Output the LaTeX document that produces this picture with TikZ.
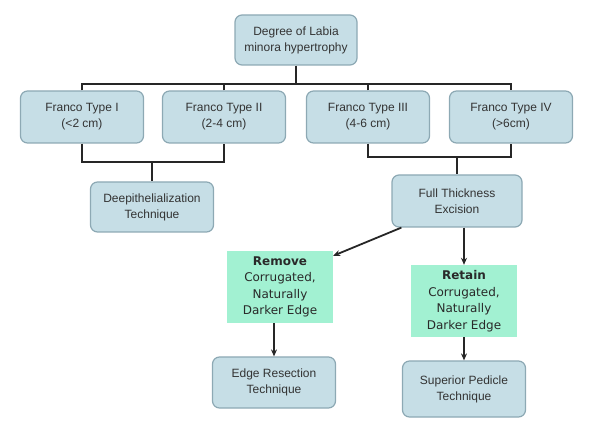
\documentclass[tikz,border=0pt]{standalone}
\usepackage{fontspec}
\setmainfont{Liberation Sans}
\newfontfamily\verdanafont{DejaVu Sans}
\usetikzlibrary{arrows.meta}
\definecolor{boxblue}{HTML}{C6DEE6}
\definecolor{boxline}{HTML}{8DA9B4}
\definecolor{boxgreen}{HTML}{A2F1D2}
\definecolor{inkgray}{HTML}{333333}
\begin{document}
\begin{tikzpicture}[x=1pt,y=-1pt,
    bluebox/.style={draw=boxline, line width=1.2pt, fill=boxblue, rounded corners=7pt,
        align=center, text=inkgray, font=\fontsize{12}{16}\selectfont,
        minimum width=123pt, minimum height=51pt, inner sep=2pt},
    greenbox/.style={fill=boxgreen, align=center, text=inkgray!80!black,
        font=\verdanafont\fontsize{12}{16.5}\selectfont,
        minimum width=106pt, minimum height=72pt, inner sep=1pt},
    link/.style={draw=black!85, line width=1.8pt},
    arr/.style={link, -{Stealth[length=7pt,width=6pt]}}]
\useasboundingbox (0,0) rectangle (600,430);

% Top level
\node[bluebox, minimum width=122pt, minimum height=50pt] (degree) at (296,40) {Degree of Labia\\minora hypertrophy};

% Franco types
\node[bluebox, minimum height=52pt] (type1) at (82,117) {Franco Type I\\(<2 cm)};
\node[bluebox, minimum height=52pt] (type2) at (224,117) {Franco Type II\\(2-4 cm)};
\node[bluebox, minimum height=52pt] (type3) at (368,117) {Franco Type III\\(4-6 cm)};
\node[bluebox, minimum height=52pt] (type4) at (511,117) {Franco Type IV\\(>6cm)};

% Bus from top level to the types
\coordinate (bus) at (296,84);
\draw[link] (degree) -- (bus);
\draw[link] (type1.north) |- (bus) -| (type4.north);
\draw[link] (type2.north) -- (type2.north |- bus);
\draw[link] (type3.north) -- (type3.north |- bus);

% Techniques for types I and II
\node[bluebox, minimum height=50pt] (deep) at (152,207) {Deepithelialization\\Technique};
\coordinate (joinA) at (152,162);
\draw[link] (type1.south) |- (joinA) -| (type2.south);
\draw[link] (joinA) -- (deep.north);

% Excision for types III and IV
\node[bluebox, minimum width=130pt, minimum height=52pt] (full) at (457,201) {Full Thickness\\Excision};
\coordinate (joinB) at (457,157);
\draw[link] (type3.south) |- (joinB) -| (type4.south);
\draw[link] (joinB) -- (full.north);

% Edge choices
\node[greenbox] (remove) at (280,287) {\textbf{Remove}\\Corrugated,\\Naturally\\Darker Edge};
\node[greenbox] (retain) at (464,301) {\textbf{Retain}\\Corrugated,\\Naturally\\Darker Edge};
\draw[arr] ([xshift=10pt]full.south west) -- ([yshift=-5pt]remove.north east);
\draw[arr] (full.south -| retain.north) -- (retain.north);

% Resulting techniques
\node[bluebox] (edge) at (274,382.5) {Edge Resection\\Technique};
\node[bluebox, minimum height=56pt] (pedicle) at (464,389) {Superior Pedicle\\Technique};
\draw[arr] (remove.south -| edge.north) -- (edge.north);
\draw[arr] (retain.south) -- (retain.south |- pedicle.north);
\end{tikzpicture}
\end{document}
